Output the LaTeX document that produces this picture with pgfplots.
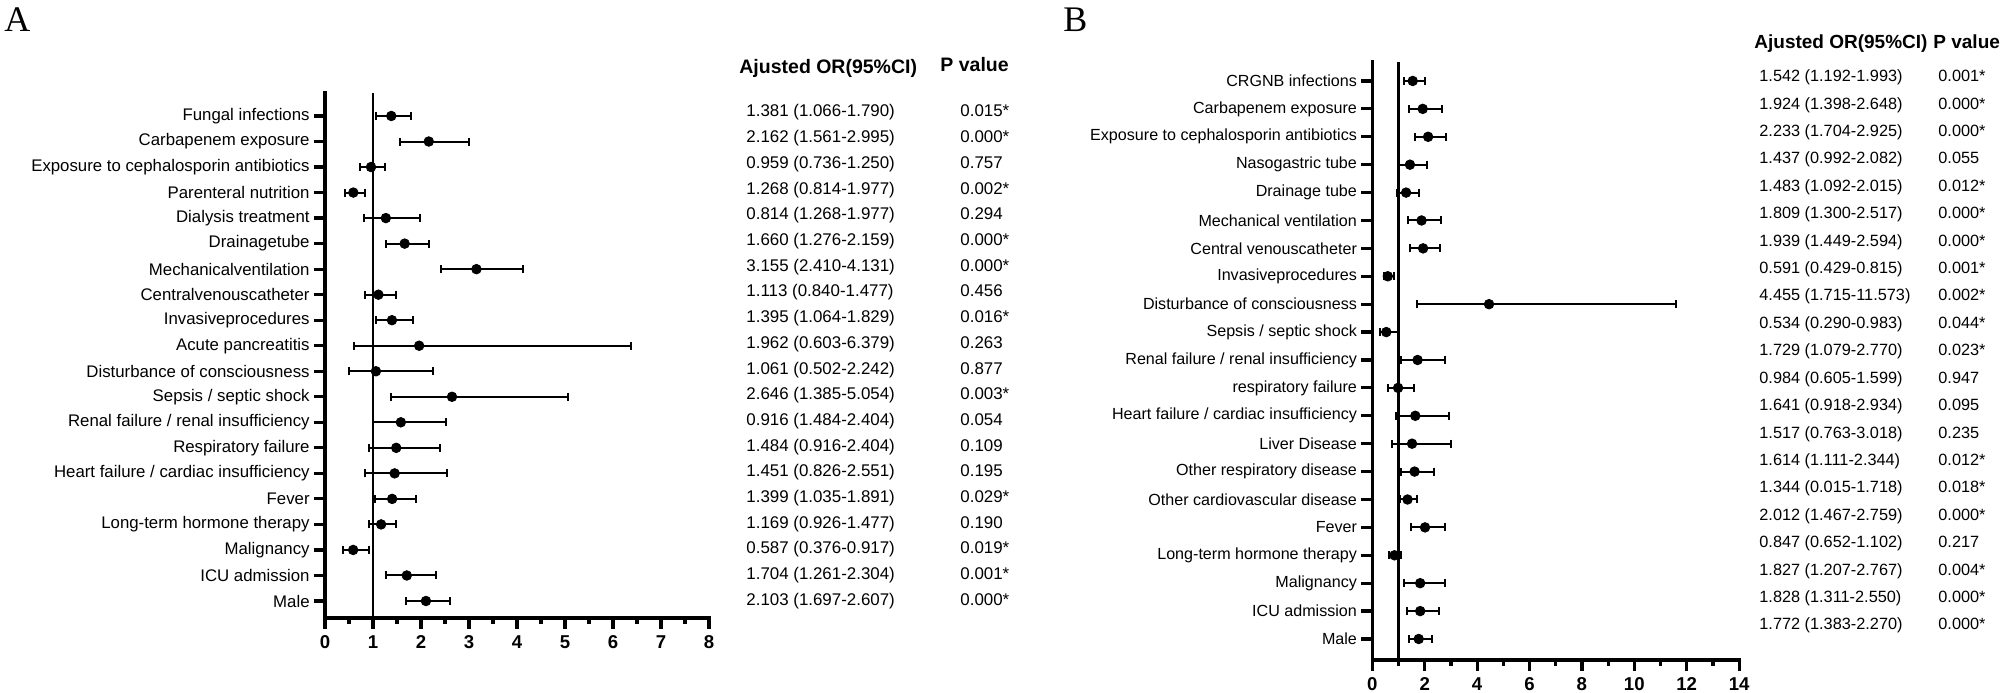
\documentclass[border=0pt]{standalone}
\usepackage{pgfplots}
\pgfplotsset{compat=1.18}
\usepackage{pgfplotstable}
\usepackage{fontspec}
\setmainfont{Liberation Sans}
\newfontfamily\panelfont{Liberation Serif}

% panel A: y=20 is the top row (Fungal infections), y=1 the bottom one (Male)
\pgfplotstableread{
y  or    lo    hi
20 1.381 1.066 1.790
19 2.162 1.561 2.995
18 0.959 0.736 1.250
17 0.590 0.420 0.840
16 1.268 0.814 1.977
15 1.660 1.276 2.159
14 3.155 2.410 4.131
13 1.113 0.840 1.477
12 1.395 1.064 1.829
11 1.962 0.603 6.379
10 1.061 0.502 2.242
9  2.646 1.385 5.054
8  1.580 0.990 2.530
7  1.484 0.916 2.404
6  1.451 0.826 2.551
5  1.399 1.035 1.891
4  1.169 0.926 1.477
3  0.587 0.376 0.917
2  1.704 1.261 2.304
1  2.103 1.697 2.607
}\dataA

% panel B: y=21 is CRGNB infections, y=1 Male
\pgfplotstableread{
y  or    lo    hi
21 1.542 1.192 1.993
20 1.924 1.398 2.648
19 2.130 1.620 2.800
18 1.437 0.992 2.082
17 1.290 0.930 1.780
16 1.880 1.350 2.630
15 1.939 1.449 2.594
14 0.591 0.429 0.815
13 4.455 1.715 11.573
12 0.534 0.290 0.983
11 1.729 1.079 2.770
10 0.984 0.605 1.599
9  1.641 0.918 2.934
8  1.517 0.763 3.018
7  1.614 1.111 2.344
6  1.344 1.050 1.718
5  2.012 1.467 2.759
4  0.847 0.652 1.102
3  1.827 1.207 2.767
2  1.828 1.311 2.550
1  1.772 1.383 2.270
}\dataB

\pgfplotsset{
  forest/.style={
    scale only axis, clip=false,
    axis lines*=left,
    axis line style={-, line width=1.6pt, line cap=rect},
    tick align=outside,
    tick style={black, line width=1.6pt},
    major tick length=5.5pt, minor tick length=3pt,
    /pgf/number format/assume math mode=true,
    xticklabel style={font=\fontsize{9.3}{10}\selectfont\bfseries, inner sep=0pt, yshift=-3pt},
    yticklabel style={inner sep=0pt, xshift=-2pt},
  },
  ci/.style={only marks, mark=*, mark size=2.4pt, black,
    error bars/.cd, x dir=both, x explicit,
    error mark=|,
    error bar style={line width=1pt, black},
    error mark options={line width=1pt, mark size=2pt, black}},
}

\begin{document}
\begin{tikzpicture}[x=1pt,y=1pt]
\path[use as bounding box] (0,0) rectangle (1004.5,346);

% ---------- A ----------
\node[anchor=base west, inner sep=0pt, font=\panelfont\fontsize{18}{20}\selectfont] at (2,330) {A};

\begin{axis}[forest, at={(162.5pt,37pt)}, anchor=south west,
  width=192pt, height=262.5pt,
  xmin=0, xmax=8, xtick={0,...,8}, minor x tick num=1,
  ymin=0.334, ymax=20.9, ytick={1,...,20},
  yticklabels={Male, ICU admission, Malignancy, Long-term hormone therapy, Fever,
    Heart failure / cardiac insufficiency, Respiratory failure,
    Renal failure / renal insufficiency, Sepsis / septic shock,
    Disturbance of consciousness, Acute pancreatitis, Invasiveprocedures,
    Centralvenouscatheter, Mechanicalventilation, Drainagetube,
    Dialysis treatment, Parenteral nutrition,
    Exposure to cephalosporin antibiotics, Carbapenem exposure, Fungal infections},
  yticklabel style={font=\fontsize{8.4}{10}\selectfont},
]
\addplot[black, line width=1.2pt] coordinates {(1,0.334) (1,20.9)};
\addplot[ci] table[x=or, y=y,
  x error plus expr=\thisrow{hi}-\thisrow{or},
  x error minus expr=\thisrow{or}-\thisrow{lo}] {\dataA};
\end{axis}

\node[anchor=base west, inner sep=0pt, font=\fontsize{9.75}{11}\selectfont\bfseries] at (369.5,309) {Ajusted OR(95\%CI)};
\node[anchor=base west, inner sep=0pt, font=\fontsize{9.75}{11}\selectfont\bfseries] at (470,310) {P value};
\foreach [count=\i] \t/\p in {
  1.381 (1.066-1.790)/0.015*, 2.162 (1.561-2.995)/0.000*, 0.959 (0.736-1.250)/0.757,
  1.268 (0.814-1.977)/0.002*, 0.814 (1.268-1.977)/0.294, 1.660 (1.276-2.159)/0.000*,
  3.155 (2.410-4.131)/0.000*, 1.113 (0.840-1.477)/0.456, 1.395 (1.064-1.829)/0.016*,
  1.962 (0.603-6.379)/0.263, 1.061 (0.502-2.242)/0.877, 2.646 (1.385-5.054)/0.003*,
  0.916 (1.484-2.404)/0.054, 1.484 (0.916-2.404)/0.109, 1.451 (0.826-2.551)/0.195,
  1.399 (1.035-1.891)/0.029*, 1.169 (0.926-1.477)/0.190, 0.587 (0.376-0.917)/0.019*,
  1.704 (1.261-2.304)/0.001*, 2.103 (1.697-2.607)/0.000*} {
  \node[anchor=base west, inner sep=0pt, font=\fontsize{8.45}{10}\selectfont] at (373,{287.5-(\i-1)*12.85}) {\t};
  \node[anchor=base west, inner sep=0pt, font=\fontsize{8.45}{10}\selectfont] at (480,{287.5-(\i-1)*12.85}) {\p};
}

% ---------- B ----------
\node[anchor=base west, inner sep=0pt, font=\panelfont\fontsize{18}{20}\selectfont] at (531.5,330) {B};

\begin{axis}[forest, at={(686.15pt,16pt)}, anchor=south west,
  width=183.4pt, height=299pt,
  xmin=0, xmax=14, xtick={0,2,...,14}, minor x tick num=1,
  ymin=0.247, ymax=21.68, ytick={1,...,21},
  yticklabels={Male, ICU admission, Malignancy, Long-term hormone therapy, Fever,
    Other cardiovascular disease, Other respiratory disease, Liver Disease,
    Heart failure / cardiac insufficiency, respiratory failure,
    Renal failure / renal insufficiency, Sepsis / septic shock,
    Disturbance of consciousness, Invasiveprocedures, Central venouscatheter,
    Mechanical ventilation, Drainage tube, Nasogastric tube,
    Exposure to cephalosporin antibiotics, Carbapenem exposure, CRGNB infections},
  yticklabel style={font=\fontsize{8.05}{10}\selectfont},
]
\addplot[black, line width=1.2pt] coordinates {(1,0.247) (1,21.68)};
\addplot[ci] table[x=or, y=y,
  x error plus expr=\thisrow{hi}-\thisrow{or},
  x error minus expr=\thisrow{or}-\thisrow{lo}] {\dataB};
\end{axis}

\node[anchor=base west, inner sep=0pt, font=\fontsize{9.5}{11}\selectfont\bfseries] at (877,321.6) {Ajusted OR(95\%CI)};
\node[anchor=base west, inner sep=0pt, font=\fontsize{9.5}{11}\selectfont\bfseries] at (966.5,321.6) {P value};
\foreach [count=\i] \t/\p in {
  1.542 (1.192-1.993)/0.001*, 1.924 (1.398-2.648)/0.000*, 2.233 (1.704-2.925)/0.000*,
  1.437 (0.992-2.082)/0.055, 1.483 (1.092-2.015)/0.012*, 1.809 (1.300-2.517)/0.000*,
  1.939 (1.449-2.594)/0.000*, 0.591 (0.429-0.815)/0.001*, 4.455 (1.715-11.573)/0.002*,
  0.534 (0.290-0.983)/0.044*, 1.729 (1.079-2.770)/0.023*, 0.984 (0.605-1.599)/0.947,
  1.641 (0.918-2.934)/0.095, 1.517 (0.763-3.018)/0.235, 1.614 (1.111-2.344)/0.012*,
  1.344 (0.015-1.718)/0.018*, 2.012 (1.467-2.759)/0.000*, 0.847 (0.652-1.102)/0.217,
  1.827 (1.207-2.767)/0.004*, 1.828 (1.311-2.550)/0.000*, 1.772 (1.383-2.270)/0.000*} {
  \node[anchor=base west, inner sep=0pt, font=\fontsize{8.15}{10}\selectfont] at (879.5,{305.1-(\i-1)*13.7}) {\t};
  \node[anchor=base west, inner sep=0pt, font=\fontsize{8.15}{10}\selectfont] at (969,{305.1-(\i-1)*13.7}) {\p};
}
\end{tikzpicture}
\end{document}
